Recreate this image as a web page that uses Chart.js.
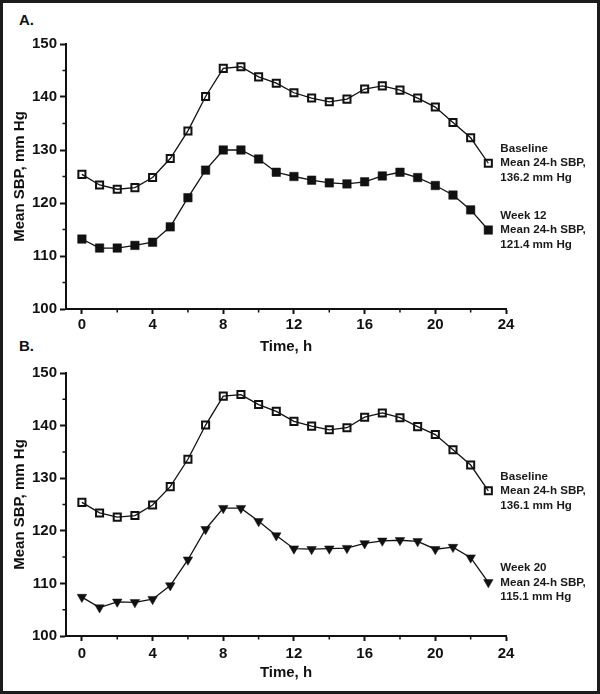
<!DOCTYPE html>
<html lang="en">
<head>
  <meta charset="UTF-8">
  <title>Mean 24-h SBP by hour</title>
  <script src="https://cdn.jsdelivr.net/npm/chart.js@4.4.0/dist/chart.umd.min.js"></script>
  <style>
    body { margin: 0; background: #fff; }
    #frame {
      position: absolute; left: 0; top: 0; width: 600px; height: 694px;
      box-sizing: border-box; border: 3px solid #1c1c1c;
    }
    canvas { position: absolute; left: 0; }
    .panel-tag {
      position: absolute; left: 19px;
      font: bold 15px "Liberation Sans", Arial, sans-serif; line-height: 18px; color: #111;
    }
  </style>
</head>
<body>
  <div id="frame"></div>
  <div class="panel-tag" style="top:11px">A.</div>
  <div class="panel-tag" style="top:337px">B.</div>
  <canvas id="chartA" width="600" height="360" style="top:0"></canvas>
  <canvas id="chartB" width="600" height="354" style="top:340px"></canvas>

  <script>
    // Hours of the day (x values)
    const hours = [0,1,2,3,4,5,6,7,8,9,10,11,12,13,14,15,16,17,18,19,20,21,22,23];

    // Panel A
    const baselineA = [125.4,123.4,122.6,122.9,124.8,128.4,133.6,140.1,145.4,145.7,143.8,142.6,
                       140.8,139.8,139.1,139.6,141.5,142.1,141.3,139.8,138.1,135.2,132.3,127.5];
    const week12    = [113.2,111.5,111.5,112.0,112.6,115.5,121.0,126.2,130.0,130.0,128.3,125.8,
                       125.0,124.3,123.8,123.6,124.0,125.1,125.8,124.8,123.3,121.5,118.7,114.9];

    // Panel B
    const baselineB = [125.4,123.4,122.6,122.9,124.9,128.4,133.6,140.1,145.6,145.9,144.0,142.7,
                       140.8,139.9,139.2,139.6,141.6,142.4,141.5,139.8,138.3,135.4,132.5,127.6];
    const week20    = [107.4,105.4,106.5,106.4,107.0,109.6,114.5,120.3,124.3,124.3,121.8,119.1,
                       116.6,116.5,116.6,116.7,117.6,118.1,118.2,118.0,116.5,116.9,114.9,110.2];

    // Series labels (drawn next to last point)
    const labelBaselineA = ['Baseline', 'Mean 24-h SBP,', '136.2 mm Hg'];
    const labelWeek12    = ['Week 12', 'Mean 24-h SBP,', '121.4 mm Hg'];
    const labelBaselineB = ['Baseline', 'Mean 24-h SBP,', '136.1 mm Hg'];
    const labelWeek20    = ['Week 20', 'Mean 24-h SBP,', '115.1 mm Hg'];

    // Ticks
    const xTicks = [0, 4, 8, 12, 16, 20, 24];
    const xMinorTicks = [2, 6, 10, 14, 18, 22];
    const yTicks = [100, 110, 120, 130, 140, 150];
    const yMinorTicks = [105, 115, 125, 135, 145];

    const INK = '#111';
    Chart.defaults.font.family = '"Liberation Sans", Arial, sans-serif';
    Chart.defaults.font.weight = 'bold';
    Chart.defaults.color = INK;

    const toPoints = values => values.map((v, i) => ({ x: hours[i], y: v }));

    // minor ticks + end-of-line text labels
    const extrasPlugin = {
      id: 'extras',
      afterDraw(chart) {
        const ctx = chart.ctx;
        const area = chart.chartArea;
        const xs = chart.scales.x, ys = chart.scales.y;
        ctx.save();
        ctx.strokeStyle = INK;
        ctx.lineWidth = 1.5;
        ctx.beginPath();
        xMinorTicks.forEach(v => {
          const px = xs.getPixelForValue(v);
          ctx.moveTo(px, area.bottom);
          ctx.lineTo(px, area.bottom + 3.5);
        });
        yMinorTicks.forEach(v => {
          const py = ys.getPixelForValue(v);
          ctx.moveTo(area.left - 3.5, py);
          ctx.lineTo(area.left, py);
        });
        ctx.stroke();

        ctx.fillStyle = '#1a1a1a';
        ctx.font = 'bold 11.6px "Liberation Sans", Arial, sans-serif';
        ctx.textBaseline = 'middle';
        ctx.textAlign = 'left';
        chart.data.datasets.forEach((ds, i) => {
          const meta = chart.getDatasetMeta(i);
          const last = meta.data[meta.data.length - 1];
          ds.endLabel.forEach((line, j) => {
            ctx.fillText(line, last.x + 12, last.y + (j - 1) * 14.5);
          });
        });
        ctx.restore();
      }
    };

    function makePanel(canvasId, series, layout) {
      const ctx = document.getElementById(canvasId).getContext('2d');
      return new Chart(ctx, {
        type: 'line',
        data: { datasets: series },
        plugins: [extrasPlugin],
        options: {
          responsive: false,
          animation: false,
          devicePixelRatio: 1,
          layout: { padding: { left: 0, right: 94, top: layout.top, bottom: layout.bottom } },
          plugins: { legend: { display: false }, tooltip: { enabled: false } },
          scales: {
            x: {
              type: 'linear',
              min: -0.9,
              max: 24,
              afterBuildTicks: s => { s.ticks = xTicks.map(v => ({ value: v })); },
              afterFit: s => { s.height = layout.xHeight; },
              ticks: { font: { size: 15 }, padding: layout.xPad, maxRotation: 0 },
              grid: { drawOnChartArea: false, drawTicks: true, tickLength: 5, tickWidth: 2, tickColor: INK },
              border: { display: true, width: 2, color: INK },
              title: { display: true, text: 'Time, h', font: { size: 15 }, padding: { top: 0, bottom: 0 } }
            },
            y: {
              min: 100,
              max: 150,
              afterBuildTicks: s => { s.ticks = yTicks.map(v => ({ value: v })); },
              afterFit: s => { s.width = 66; },
              ticks: { font: { size: 15 }, padding: 3 },
              grid: { drawOnChartArea: false, drawTicks: true, tickLength: 6, tickWidth: 2, tickColor: INK },
              border: { display: true, width: 2, color: INK },
              title: { display: true, text: 'Mean SBP, mm Hg', font: { size: 15 }, padding: { top: 11, bottom: 0 } }
            }
          }
        }
      });
    }

    const lineBase = { borderColor: INK, borderWidth: 1.3, tension: 0, clip: false };

    const openSquares = (values, label) => Object.assign({}, lineBase, {
      data: toPoints(values), endLabel: label,
      pointStyle: 'rect', pointRadius: 5, pointBorderWidth: 2,
      pointBackgroundColor: 'rgba(0,0,0,0)', pointBorderColor: INK
    });

    makePanel('chartA', [
      openSquares(baselineA, labelBaselineA),
      Object.assign({}, lineBase, {
        data: toPoints(week12), endLabel: labelWeek12,
        pointStyle: 'rect', pointRadius: 6, pointBorderWidth: 0.5,
        pointBackgroundColor: INK, pointBorderColor: INK
      })
    ], { top: 44, bottom: 4, xHeight: 47, xPad: 1.5 });

    makePanel('chartB', [
      openSquares(baselineB, labelBaselineB),
      Object.assign({}, lineBase, {
        data: toPoints(week20), endLabel: labelWeek20,
        pointStyle: 'triangle', pointRotation: 180, pointRadius: 5.5, pointBorderWidth: 0.5,
        pointBackgroundColor: INK, pointBorderColor: INK
      })
    ], { top: 33, bottom: 12, xHeight: 46, xPad: 3.5 });
  </script>
</body>
</html>
